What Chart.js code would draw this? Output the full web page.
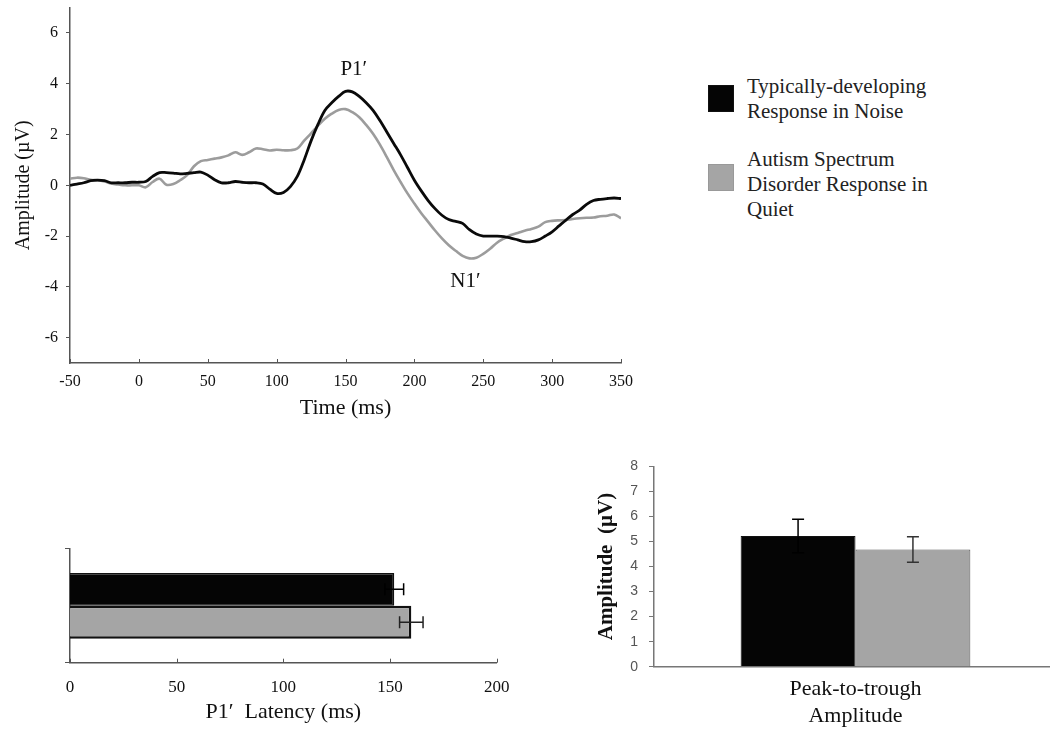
<!DOCTYPE html>
<html>
<head>
<meta charset="utf-8">
<script src="https://cdn.jsdelivr.net/npm/chart.js@4.4.0/dist/chart.umd.min.js"></script>
<style>
  html, body { margin: 0; padding: 0; background: #fff; overflow: hidden; }
  #wrap { position: relative; width: 1050px; height: 732px; overflow: hidden; }
  canvas { position: absolute; }
  #chartErp { left: 0; top: -9.8px; }
  #chartLatency { left: 0; top: 540px; }
  #chartAmp { left: 560px; top: 447px; }
  .lg-box { position: absolute; left: 708px; width: 26px; height: 27px; }
  .lg-text { position: absolute; left: 747px; font: 21px/25px 'Liberation Serif', 'Times New Roman', serif; color: #222; white-space: nowrap; }
</style>
</head>
<body>
<div id="wrap">
  <canvas id="chartErp" width="651" height="441"></canvas>
  <canvas id="chartLatency" width="524" height="190"></canvas>
  <canvas id="chartAmp" width="500" height="283"></canvas>
</div>
<script>
// ==== Data ====
const times = [-50,-45,-40,-35,-30,-25,-20,-15,-10,-5,0,5,10,15,20,25,30,35,40,45,
  50,55,60,65,70,75,80,85,90,95,100,105,110,115,120,125,130,135,140,145,
  150,155,160,165,170,175,180,185,190,195,200,205,210,215,220,225,230,235,240,245,
  250,255,260,265,270,275,280,285,290,295,300,305,310,315,320,325,330,335,340,345,350];

const tdNoise = [0.0,0.05,0.1,0.18,0.2,0.18,0.1,0.1,0.1,0.12,0.12,0.15,0.35,0.5,0.5,0.48,0.45,0.47,0.5,0.52,
  0.4,0.22,0.1,0.1,0.15,0.12,0.1,0.1,0.05,-0.15,-0.32,-0.28,-0.05,0.35,1.0,1.75,2.4,2.95,3.25,3.5,
  3.7,3.68,3.5,3.25,2.95,2.55,2.1,1.65,1.2,0.7,0.2,-0.22,-0.6,-0.92,-1.18,-1.35,-1.42,-1.5,-1.75,-1.92,
  -2.0,-2.0,-2.0,-2.02,-2.08,-2.15,-2.22,-2.22,-2.15,-2.0,-1.83,-1.6,-1.37,-1.15,-0.98,-0.75,-0.6,-0.55,-0.52,-0.5,-0.52];

const asdQuiet = [0.26,0.3,0.28,0.22,0.2,0.15,0.07,0.03,0.0,0.0,0.0,-0.08,0.13,0.26,0.02,0.05,0.2,0.4,0.75,0.95,
  1.0,1.05,1.1,1.18,1.3,1.2,1.3,1.45,1.42,1.37,1.4,1.38,1.38,1.45,1.76,2.05,2.35,2.62,2.82,2.97,
  3.0,2.88,2.68,2.38,2.03,1.6,1.11,0.6,0.13,-0.32,-0.72,-1.1,-1.44,-1.78,-2.09,-2.36,-2.58,-2.78,-2.88,-2.85,
  -2.7,-2.5,-2.26,-2.1,-1.96,-1.88,-1.79,-1.72,-1.63,-1.45,-1.4,-1.38,-1.37,-1.33,-1.3,-1.28,-1.27,-1.22,-1.2,-1.15,-1.3];

const timeTicks = [-50,0,50,100,150,200,250,300,350];
const ampTicks = [-6,-4,-2,0,2,4,6];

const peakNames = ['P1\u2032', 'N1\u2032'];
const peakTimes = [156, 237];
const peakAmps = [4.55, -3.8];

const seriesNames = [
  ['Typically-developing', 'Response in Noise'],
  ['Autism Spectrum', 'Disorder Response in', 'Quiet']
];
const seriesColors = ['#050505', '#a5a5a5'];
const lineColors = ['#0a0a0a', '#9c9c9c'];

const latencyMean = [152, 160];
const latencyErr = [4.4, 5.5];
const latencyTicks = [0, 50, 100, 150, 200];

const ampCategory = [['Peak-to-trough', 'Amplitude']];
const ampMean = [5.22, 4.68];
const ampErr = [0.67, 0.51];
const ampBarTicks = [0, 1, 2, 3, 4, 5, 6, 7, 8];

const serif = "'Liberation Serif', 'Times New Roman', serif";
const sans = "'Liberation Sans', Arial, sans-serif";
Chart.defaults.font.family = serif;
Chart.defaults.color = '#111';

// ==== Plugins ====
const innerTicks = {
  id: 'innerTicks',
  defaults: { length: 4, color: '#555' },
  afterDraw(chart, args, opts) {
    const s = chart.scales.x;
    const ctx = chart.ctx;
    ctx.save();
    ctx.strokeStyle = opts.color;
    ctx.lineWidth = 1;
    s.ticks.forEach(t => {
      const x = Math.round(s.getPixelForValue(t.value)) + 0.5;
      ctx.beginPath();
      ctx.moveTo(x, s.top);
      ctx.lineTo(x, s.top - opts.length);
      ctx.stroke();
    });
    ctx.restore();
  }
};

const peakText = {
  id: 'peakText',
  afterDatasetsDraw(chart) {
    const ctx = chart.ctx;
    ctx.save();
    ctx.font = '21px ' + serif;
    ctx.fillStyle = '#111';
    ctx.textAlign = 'center';
    ctx.textBaseline = 'middle';
    peakNames.forEach((name, i) => {
      ctx.fillText(name, chart.scales.x.getPixelForValue(peakTimes[i]), chart.scales.y.getPixelForValue(peakAmps[i]));
    });
    ctx.restore();
  }
};

// error bars: one whisker per dataset, caps at both ends
function makeErrorBars(errs) {
  return {
    id: 'errorBars',
    defaults: { color: '#222', width: 1.5, cap: 6 },
    afterDatasetsDraw(chart, args, opts) {
      const ctx = chart.ctx;
      const horizontal = chart.options.indexAxis === 'y';
      const valScale = horizontal ? chart.scales.x : chart.scales.y;
      ctx.save();
      ctx.lineWidth = opts.width;
      chart.data.datasets.forEach((ds, i) => {
        const bar = chart.getDatasetMeta(i).data[0];
        if (!bar) return;
        const v = ds.data[0], e = errs[i];
        const lo = valScale.getPixelForValue(v - e);
        const hi = valScale.getPixelForValue(v + e);
        const c = horizontal ? bar.y : bar.x;
        const k = opts.cap;
        ctx.strokeStyle = i === 0 ? '#000' : opts.color;
        ctx.beginPath();
        if (horizontal) {
          ctx.moveTo(lo, c); ctx.lineTo(hi, c);
          ctx.moveTo(lo, c - k); ctx.lineTo(lo, c + k);
          ctx.moveTo(hi, c - k); ctx.lineTo(hi, c + k);
        } else {
          ctx.moveTo(c, lo); ctx.lineTo(c, hi);
          ctx.moveTo(c - k, lo); ctx.lineTo(c + k, lo);
          ctx.moveTo(c - k, hi); ctx.lineTo(c + k, hi);
        }
        ctx.stroke();
      });
      ctx.restore();
    }
  };
}

const baseOpts = {
  responsive: false,
  animation: false,
  devicePixelRatio: 1,
  events: []
};

// ==== ERP waveform ====
new Chart(document.getElementById('chartErp'), {
  type: 'line',
  data: {
    datasets: [
      {
        data: times.map((t, i) => ({ x: t, y: tdNoise[i] })),
        borderColor: lineColors[0], borderWidth: 2.8, pointRadius: 0, tension: 0.35, fill: false
      },
      {
        data: times.map((t, i) => ({ x: t, y: asdQuiet[i] })),
        borderColor: lineColors[1], borderWidth: 2.6, pointRadius: 0, tension: 0.35, fill: false
      }
    ]
  },
  plugins: [innerTicks, peakText],
  options: {
    ...baseOpts,
    layout: { padding: { top: 14, right: 30, bottom: 0, left: 0 } },
    plugins: { legend: { display: false }, tooltip: { enabled: false } },
    scales: {
      x: {
        type: 'linear', min: -50, max: 350,
        afterBuildTicks: s => { s.ticks = timeTicks.map(v => ({ value: v })); },
        afterFit: s => { s.height = 68; },
        grid: { display: false, drawTicks: false },
        border: { color: '#555', width: 1.5 },
        ticks: { font: { size: 16 }, padding: 9, maxRotation: 0 },
        title: { display: true, text: 'Time (ms)', font: { size: 22 }, padding: { top: 0, bottom: 10 } }
      },
      y: {
        min: -7, max: 7,
        afterBuildTicks: s => { s.ticks = ampTicks.map(v => ({ value: v })); },
        afterFit: s => { s.width = 70; },
        grid: { drawOnChartArea: false, drawTicks: true, tickLength: 4, color: '#555' },
        border: { color: '#555', width: 1.5 },
        ticks: { font: { size: 16 }, padding: 8 },
        title: { display: true, text: 'Amplitude (\u00b5V)', font: { size: 20 }, padding: { top: 12, bottom: 0 } }
      }
    }
  }
});

// ==== Legend ====
const wrap = document.getElementById('wrap');
const boxTops = [84.5, 164];
const textTops = [74, 147];
seriesNames.forEach((lines, i) => {
  const box = document.createElement('div');
  box.className = 'lg-box';
  box.style.top = boxTops[i] + 'px';
  box.style.background = seriesColors[i];
  box.style.border = '1px solid ' + (i === 0 ? '#111' : '#999');
  box.style.boxSizing = 'border-box';
  wrap.appendChild(box);
  const txt = document.createElement('div');
  txt.className = 'lg-text';
  txt.style.top = textTops[i] + 'px';
  txt.innerHTML = lines.join('<br>');
  wrap.appendChild(txt);
});

// ==== P1' latency (horizontal bars) ====
new Chart(document.getElementById('chartLatency'), {
  type: 'bar',
  data: {
    labels: [''],
    datasets: [
      { data: [latencyMean[0]], backgroundColor: seriesColors[0], borderColor: '#111', borderWidth: 1.5 },
      { data: [latencyMean[1]], backgroundColor: seriesColors[1], borderColor: '#111', borderWidth: 2.5 }
    ]
  },
  plugins: [innerTicks, makeErrorBars(latencyErr)],
  options: {
    ...baseOpts,
    indexAxis: 'y',
    categoryPercentage: 0.58,
    barPercentage: 1.0,
    layout: { padding: { top: 9, right: 23, bottom: 0, left: 0 } },
    plugins: { legend: { display: false }, tooltip: { enabled: false }, errorBars: { cap: 6, width: 1.5, color: '#222' } },
    scales: {
      x: {
        type: 'linear', min: 0, max: 200,
        afterBuildTicks: s => { s.ticks = latencyTicks.map(v => ({ value: v })); },
        afterFit: s => { s.height = 67.3; },
        grid: { display: false, drawTicks: false },
        border: { color: '#555', width: 1.5 },
        ticks: { font: { size: 17 }, padding: 14.6, maxRotation: 0 },
        title: { display: true, text: 'P1\u2032  Latency (ms)', font: { size: 22 }, padding: { top: 0, bottom: 4.8 } }
      },
      y: {
        afterFit: s => { s.width = 70; },
        grid: { drawOnChartArea: false, drawTicks: true, tickLength: 5, color: '#555', offset: true },
        border: { color: '#555', width: 1.5 },
        ticks: { display: false }
      }
    }
  }
});

// ==== Peak-to-trough amplitude (vertical bars) ====
new Chart(document.getElementById('chartAmp'), {
  type: 'bar',
  data: {
    labels: ampCategory,
    datasets: [
      { data: [ampMean[0]], backgroundColor: seriesColors[0], borderColor: '#111', borderWidth: 1 },
      { data: [ampMean[1]], backgroundColor: seriesColors[1], borderColor: '#555', borderWidth: 1 }
    ]
  },
  plugins: [makeErrorBars(ampErr)],
  options: {
    ...baseOpts,
    categoryPercentage: 0.57,
    barPercentage: 1.0,
    layout: { padding: { top: 10, right: 3, bottom: 0, left: 0 } },
    plugins: { legend: { display: false }, tooltip: { enabled: false }, errorBars: { cap: 6, width: 1.5, color: '#333' } },
    scales: {
      x: {
        afterFit: s => { s.height = 63.3; },
        grid: { display: false, drawTicks: false },
        border: { color: '#777', width: 1.5 },
        ticks: { font: { size: 22 }, padding: 9.5, maxRotation: 0, color: '#111' }
      },
      y: {
        min: 0, max: 8,
        afterBuildTicks: s => { s.ticks = ampBarTicks.map(v => ({ value: v })); },
        afterFit: s => { s.width = 94; },
        grid: { drawOnChartArea: false, drawTicks: true, tickLength: 5, color: '#777' },
        border: { color: '#777', width: 1.5 },
        ticks: { font: { family: sans, size: 14 }, color: '#555', padding: 11 },
        title: { display: true, text: 'Amplitude  (\u00b5V)', font: { size: 21, weight: 'bold' }, padding: { top: 34.4, bottom: 0 } }
      }
    }
  }
});
</script>
</body>
</html>
